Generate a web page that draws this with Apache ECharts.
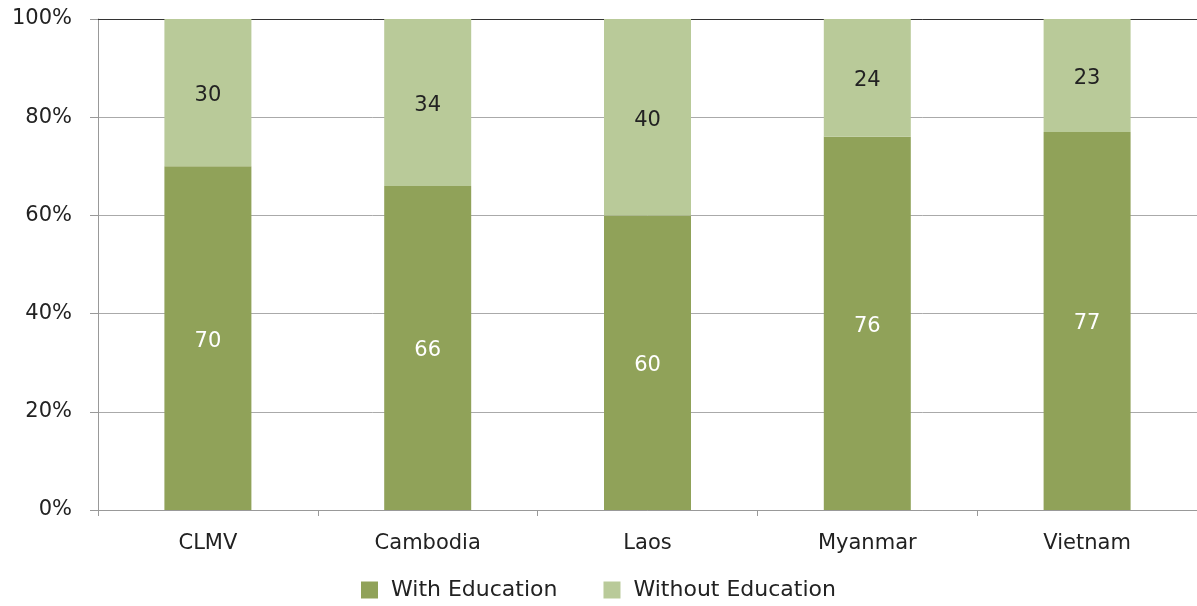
<!DOCTYPE html>
<html><head><meta charset="utf-8">
<script src="https://cdn.jsdelivr.net/npm/echarts@6/dist/echarts.min.js"></script>
<style>html,body{margin:0;padding:0;background:#fff}#c{width:1197px;height:606px}</style>
</head><body><div id="c"></div>
<script>
const categories = ['CLMV', 'Cambodia', 'Laos', 'Myanmar', 'Vietnam'];
const withEducation = [70, 66, 60, 76, 77];
const withoutEducation = [30, 34, 40, 24, 23];
const seriesNames = ['With Education', 'Without Education'];

const font = 'DejaVu Sans, Verdana, sans-serif';
const chart = echarts.init(document.getElementById('c'));
chart.setOption({
  animation: false,
  grid: { left: 98, right: 0, top: 19, bottom: 96, containLabel: false },
  legend: {
    bottom: 0, left: 'center', itemWidth: 17, itemHeight: 17, itemGap: 46, icon: 'rect',
    textStyle: { fontFamily: font, fontSize: 22, color: '#222', padding: [0, 0, 0, 8] },
    data: seriesNames
  },
  xAxis: [{
    type: 'category', data: categories,
    axisLine: { lineStyle: { color: '#999', width: 1 } },
    axisTick: { show: true, length: 6, lineStyle: { color: '#999' } },
    axisLabel: { fontFamily: font, fontSize: 21, color: '#222', margin: 23 }
  }, {
    type: 'category', data: categories, position: 'top',
    axisLine: { show: true, lineStyle: { color: '#333', width: 1 } },
    axisTick: { show: false }, axisLabel: { show: false }
  }],
  yAxis: {
    type: 'value', min: 0, max: 100, interval: 20,
    axisLine: { show: true, lineStyle: { color: '#999' } },
    axisTick: { show: true, length: 8, lineStyle: { color: '#999' } },
    splitLine: { lineStyle: { color: '#aaa' } },
    axisLabel: { formatter: '{value}%', fontFamily: font, fontSize: 21, color: '#222', margin: 26 }
  },
  series: [{
    name: seriesNames[0], type: 'bar', stack: 'a', data: withEducation, barWidth: 87,
    itemStyle: { color: '#90A259' },
    label: { show: true, position: 'inside', color: '#fff', fontFamily: font, fontSize: 21, offset: [0, 3] }
  }, {
    name: seriesNames[1], type: 'bar', stack: 'a', data: withoutEducation, barWidth: 87,
    itemStyle: { color: '#B9CA99' },
    label: { show: true, position: 'inside', color: '#222', fontFamily: font, fontSize: 21, offset: [0, 3] }
  }]
});
</script></body></html>
